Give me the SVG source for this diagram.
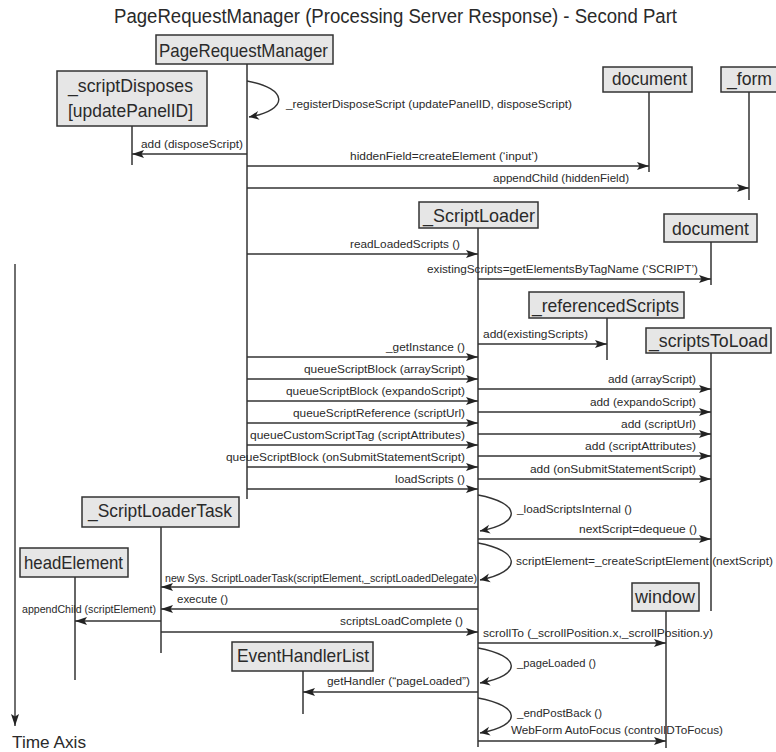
<svg xmlns="http://www.w3.org/2000/svg" width="776" height="752" viewBox="0 0 776 752">
  <style>
    text { font-family: "Liberation Sans Narrow", "Liberation Sans", Arial, sans-serif; fill: #2a2a2a; }
    .title { font-size: 20px; }
    .box { fill: #e6e6e6; stroke: #333; stroke-width: 1.5; }
    .name { font-size: 19px; }
    .life { stroke: #333; stroke-width: 1.5; fill: none; }
    .msg { stroke: #333; stroke-width: 1.4; fill: none; marker-end: url(#head); }
    .self { stroke: #333; stroke-width: 1.4; fill: none; marker-end: url(#open); }
    .lbl { font-size: 11.5px; }
    .axis { font-size: 17px; }
  </style>
  <defs>
    <marker id="head" markerUnits="userSpaceOnUse" viewBox="0 0 12 8" refX="12" refY="4" markerWidth="12" markerHeight="8" orient="auto">
      <path d="M0,0 L12,4 L0,8 L2.5,4 z" fill="#222"/>
    </marker>
    <marker id="open" markerUnits="userSpaceOnUse" viewBox="0 0 12 10" refX="11" refY="5" markerWidth="12" markerHeight="10" orient="auto">
      <path d="M1,0.5 L11,5 L1,9.5 L4,5 z" fill="#222"/>
    </marker>
  </defs>

  <rect width="776" height="752" fill="#fff"/>

  <text class="title" x="114" y="23" textLength="563" lengthAdjust="spacingAndGlyphs">PageRequestManager (Processing Server Response) - Second Part</text>

  <!-- time axis -->
  <g id="time-axis">
    <line class="msg" x1="15" y1="264" x2="15" y2="726"/>
    <text class="axis" x="12" y="748" textLength="74" lengthAdjust="spacingAndGlyphs">Time Axis</text>
  </g>

  <!-- participants -->
  <g id="page-request-manager">
    <line class="life" x1="247" y1="64" x2="247" y2="499"/>
    <rect class="box" x="156" y="35" width="177" height="29"/>
    <text class="name" x="159" y="57" textLength="169" lengthAdjust="spacingAndGlyphs">PageRequestManager</text>
  </g>
  <g id="script-disposes">
    <line class="life" x1="132" y1="126" x2="132" y2="165"/>
    <rect class="box" x="57" y="71" width="150" height="55"/>
    <text class="name" x="68" y="92" textLength="125" lengthAdjust="spacingAndGlyphs">_scriptDisposes</text>
    <text class="name" x="68" y="117" textLength="125" lengthAdjust="spacingAndGlyphs">[updatePanelID]</text>
  </g>
  <g id="document-1">
    <line class="life" x1="649" y1="92" x2="649" y2="172"/>
    <rect class="box" x="603" y="67" width="89" height="25"/>
    <text class="name" x="612" y="85" textLength="75" lengthAdjust="spacingAndGlyphs">document</text>
  </g>
  <g id="form">
    <line class="life" x1="749" y1="92" x2="749" y2="200"/>
    <rect class="box" x="721" y="67" width="62" height="25"/>
    <text class="name" x="727" y="85" textLength="45" lengthAdjust="spacingAndGlyphs">_form</text>
  </g>
  <g id="script-loader">
    <line class="life" x1="478" y1="228" x2="478" y2="747"/>
    <rect class="box" x="419" y="202" width="119" height="26"/>
    <text class="name" x="423" y="222" textLength="112" lengthAdjust="spacingAndGlyphs">_ScriptLoader</text>
  </g>
  <g id="document-2">
    <line class="life" x1="711" y1="242" x2="711" y2="285"/>
    <rect class="box" x="664" y="214" width="93" height="28"/>
    <text class="name" x="672" y="235" textLength="77" lengthAdjust="spacingAndGlyphs">document</text>
  </g>
  <g id="referenced-scripts">
    <line class="life" x1="607" y1="318" x2="607" y2="360"/>
    <rect class="box" x="529" y="292" width="155" height="26"/>
    <text class="name" x="532" y="312" textLength="147" lengthAdjust="spacingAndGlyphs">_referencedScripts</text>
  </g>
  <g id="scripts-to-load">
    <line class="life" x1="711" y1="353" x2="711" y2="611"/>
    <rect class="box" x="646" y="328" width="125" height="25"/>
    <text class="name" x="649" y="347" textLength="119" lengthAdjust="spacingAndGlyphs">_scriptsToLoad</text>
  </g>
  <g id="script-loader-task">
    <line class="life" x1="161" y1="527" x2="161" y2="653"/>
    <rect class="box" x="82" y="497" width="157" height="30"/>
    <text class="name" x="88" y="517" textLength="144" lengthAdjust="spacingAndGlyphs">_ScriptLoaderTask</text>
  </g>
  <g id="head-element">
    <line class="life" x1="75" y1="577" x2="75" y2="680"/>
    <rect class="box" x="20" y="548" width="108" height="29"/>
    <text class="name" x="24" y="569" textLength="99" lengthAdjust="spacingAndGlyphs">headElement</text>
  </g>
  <g id="window">
    <line class="life" x1="666" y1="611" x2="666" y2="748"/>
    <rect class="box" x="632" y="583" width="67" height="28"/>
    <text class="name" x="635" y="603" textLength="60" lengthAdjust="spacingAndGlyphs">window</text>
  </g>
  <g id="event-handler-list">
    <line class="life" x1="303" y1="671" x2="303" y2="714"/>
    <rect class="box" x="232" y="642" width="141" height="29"/>
    <text class="name" x="237" y="662" textLength="132" lengthAdjust="spacingAndGlyphs">EventHandlerList</text>
  </g>

  <!-- messages -->
  <g id="connectors">
    <path class="self" d="M247,81 C288,88 290,110 249,117"/>
    <line class="msg" x1="247" y1="154" x2="132" y2="154"/>
    <line class="msg" x1="247" y1="166" x2="649" y2="166"/>
    <line class="msg" x1="247" y1="188" x2="749" y2="188"/>
    <line class="msg" x1="247" y1="254" x2="478" y2="254"/>
    <line class="msg" x1="478" y1="279" x2="711" y2="279"/>
    <line class="msg" x1="478" y1="344" x2="607" y2="344"/>
    <line class="msg" x1="247" y1="357" x2="478" y2="357"/>
    <line class="msg" x1="247" y1="379" x2="478" y2="379"/>
    <line class="msg" x1="247" y1="401" x2="478" y2="401"/>
    <line class="msg" x1="247" y1="423" x2="478" y2="423"/>
    <line class="msg" x1="247" y1="445" x2="478" y2="445"/>
    <line class="msg" x1="247" y1="467" x2="478" y2="467"/>
    <line class="msg" x1="247" y1="489" x2="478" y2="489"/>
    <line class="msg" x1="478" y1="389" x2="711" y2="389"/>
    <line class="msg" x1="478" y1="412" x2="711" y2="412"/>
    <line class="msg" x1="478" y1="434" x2="711" y2="434"/>
    <line class="msg" x1="478" y1="456" x2="711" y2="456"/>
    <line class="msg" x1="478" y1="479" x2="711" y2="479"/>
    <path class="self" d="M478,495 C521,503 523,523 480,531"/>
    <line class="msg" x1="478" y1="539" x2="711" y2="539"/>
    <path class="self" d="M478,543 C521,551 523,571 480,580"/>
    <line class="msg" x1="478" y1="587" x2="161" y2="587"/>
    <line class="msg" x1="478" y1="609" x2="161" y2="609"/>
    <line class="msg" x1="161" y1="621" x2="75" y2="621"/>
    <line class="msg" x1="161" y1="632" x2="478" y2="632"/>
    <line class="msg" x1="478" y1="643" x2="666" y2="643"/>
    <path class="self" d="M478,648 C521,656 523,675 480,683"/>
    <line class="msg" x1="478" y1="692" x2="303" y2="692"/>
    <path class="self" d="M478,698 C521,706 523,725 480,733"/>
    <line class="msg" x1="478" y1="741" x2="666" y2="741"/>

    <text class="lbl" x="286" y="108" textLength="286" lengthAdjust="spacingAndGlyphs">_registerDisposeScript (updatePanelID, disposeScript)</text>
    <text class="lbl" x="141" y="148" textLength="102" lengthAdjust="spacingAndGlyphs">add (disposeScript)</text>
    <text class="lbl" x="350" y="160" textLength="188" lengthAdjust="spacingAndGlyphs">hiddenField=createElement (‘input’)</text>
    <text class="lbl" x="493" y="182" textLength="136" lengthAdjust="spacingAndGlyphs">appendChild (hiddenField)</text>
    <text class="lbl" x="350" y="248" textLength="110" lengthAdjust="spacingAndGlyphs">readLoadedScripts ()</text>
    <text class="lbl" x="427" y="273" textLength="271" lengthAdjust="spacingAndGlyphs">existingScripts=getElementsByTagName (‘SCRIPT’)</text>
    <text class="lbl" x="483" y="338" textLength="105" lengthAdjust="spacingAndGlyphs">add(existingScripts)</text>
    <text class="lbl" x="386" y="351" textLength="79" lengthAdjust="spacingAndGlyphs">_getInstance ()</text>
    <text class="lbl" x="304" y="373" textLength="161" lengthAdjust="spacingAndGlyphs">queueScriptBlock (arrayScript)</text>
    <text class="lbl" x="286" y="395" textLength="179" lengthAdjust="spacingAndGlyphs">queueScriptBlock (expandoScript)</text>
    <text class="lbl" x="293" y="417" textLength="172" lengthAdjust="spacingAndGlyphs">queueScriptReference (scriptUrl)</text>
    <text class="lbl" x="250" y="439" textLength="215" lengthAdjust="spacingAndGlyphs">queueCustomScriptTag (scriptAttributes)</text>
    <text class="lbl" x="226" y="461" textLength="239" lengthAdjust="spacingAndGlyphs">queueScriptBlock (onSubmitStatementScript)</text>
    <text class="lbl" x="395" y="483" textLength="70" lengthAdjust="spacingAndGlyphs">loadScripts ()</text>
    <text class="lbl" x="608" y="383" textLength="88" lengthAdjust="spacingAndGlyphs">add (arrayScript)</text>
    <text class="lbl" x="590" y="406" textLength="106" lengthAdjust="spacingAndGlyphs">add (expandoScript)</text>
    <text class="lbl" x="621" y="428" textLength="75" lengthAdjust="spacingAndGlyphs">add (scriptUrl)</text>
    <text class="lbl" x="585" y="450" textLength="111" lengthAdjust="spacingAndGlyphs">add (scriptAttributes)</text>
    <text class="lbl" x="530" y="473" textLength="166" lengthAdjust="spacingAndGlyphs">add (onSubmitStatementScript)</text>
    <text class="lbl" x="517" y="513" textLength="115" lengthAdjust="spacingAndGlyphs">_loadScriptsInternal ()</text>
    <text class="lbl" x="579" y="533" textLength="118" lengthAdjust="spacingAndGlyphs">nextScript=dequeue ()</text>
    <text class="lbl" x="516" y="565" textLength="257" lengthAdjust="spacingAndGlyphs">scriptElement=_createScriptElement (nextScript)</text>
    <text class="lbl" x="165" y="582" textLength="312" lengthAdjust="spacingAndGlyphs">new Sys. ScriptLoaderTask(scriptElement,_scriptLoadedDelegate)</text>
    <text class="lbl" x="177" y="603" textLength="51" lengthAdjust="spacingAndGlyphs">execute ()</text>
    <text class="lbl" x="22" y="613" textLength="134" lengthAdjust="spacingAndGlyphs">appendChild (scriptElement)</text>
    <text class="lbl" x="340" y="625" textLength="123" lengthAdjust="spacingAndGlyphs">scriptsLoadComplete ()</text>
    <text class="lbl" x="483" y="637" textLength="230" lengthAdjust="spacingAndGlyphs">scrollTo (_scrollPosition.x,_scrollPosition.y)</text>
    <text class="lbl" x="517" y="667" textLength="79" lengthAdjust="spacingAndGlyphs">_pageLoaded ()</text>
    <text class="lbl" x="327" y="685" textLength="143" lengthAdjust="spacingAndGlyphs">getHandler (“pageLoaded”)</text>
    <text class="lbl" x="517" y="717" textLength="85" lengthAdjust="spacingAndGlyphs">_endPostBack ()</text>
    <text class="lbl" x="511" y="734" textLength="212" lengthAdjust="spacingAndGlyphs">WebForm AutoFocus (controlIDToFocus)</text>
  </g>
</svg>
